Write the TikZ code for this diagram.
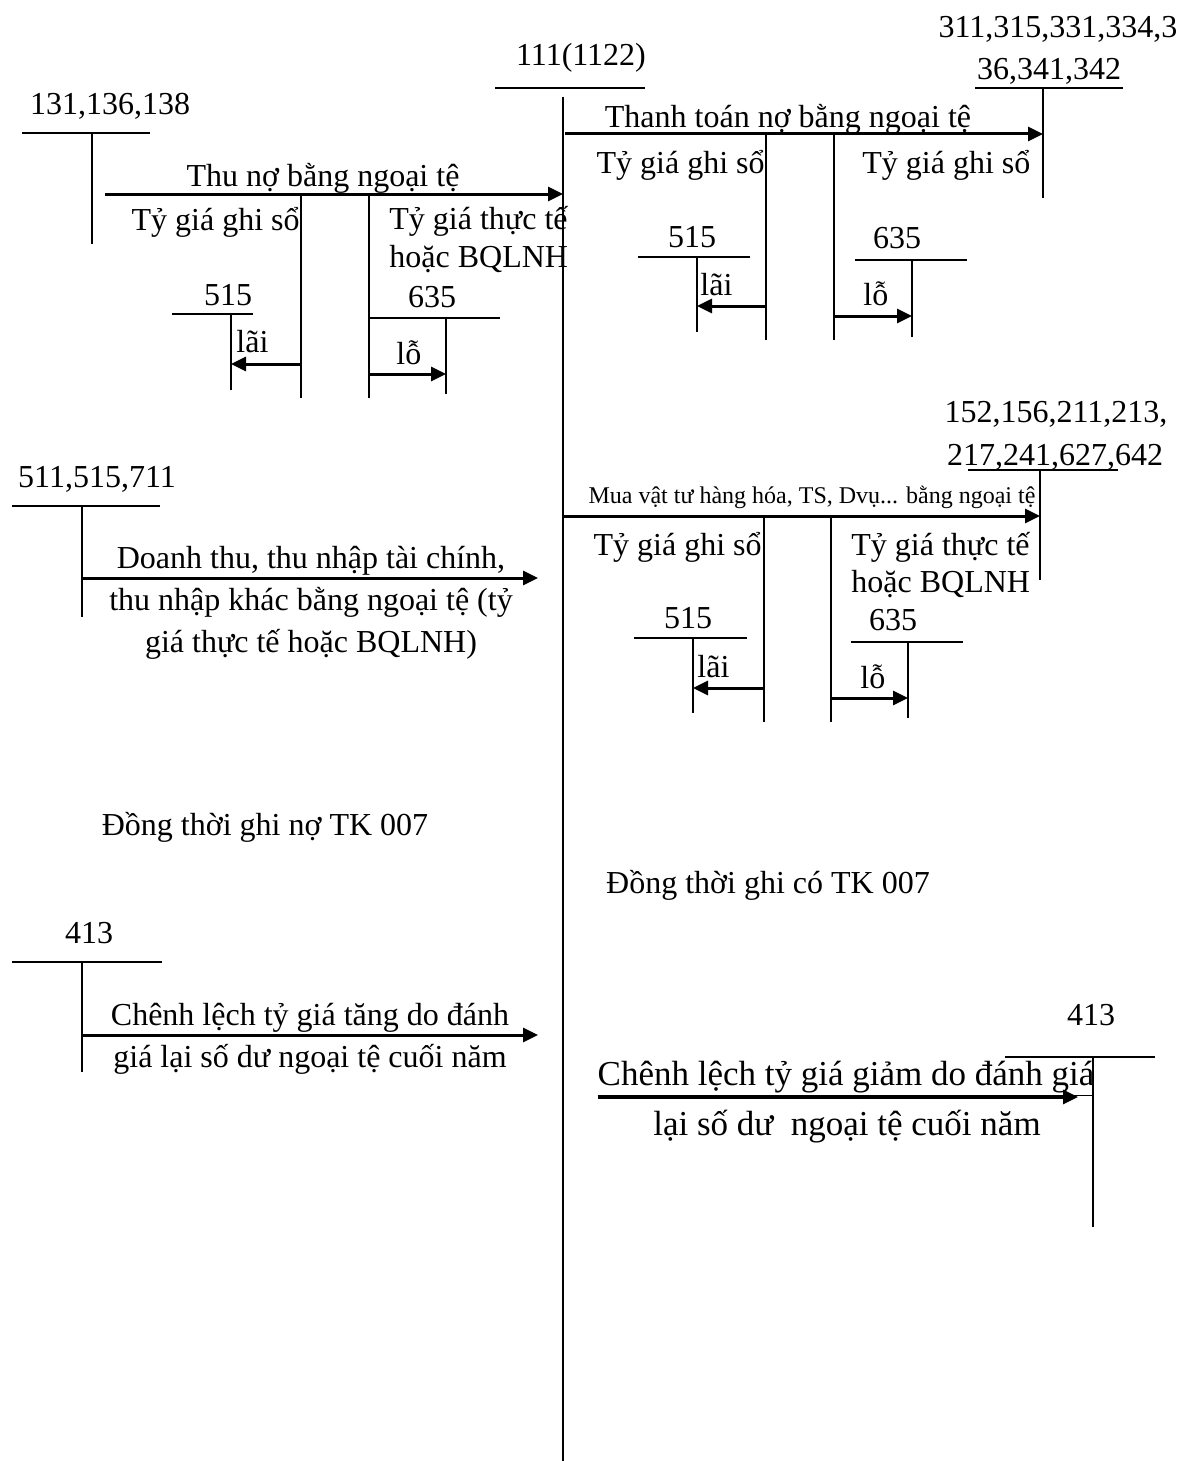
\documentclass[tikz,border=0pt]{standalone}
\usepackage{fontspec}
\setmainfont{Liberation Serif}
\usetikzlibrary{arrows.meta,positioning}

\begin{document}
\begin{tikzpicture}[x=0.5pt,y=-0.5pt,>={Triangle[length=7.5pt,width=7pt]},
  tk/.style={line width=0.9pt},
  but/.style={->,line width=1.5pt},
  chu/.style={font=\fontsize{16}{19}\selectfont,inner sep=0pt,anchor=base},
  chulon/.style={font=\fontsize{17.5}{21}\selectfont,inner sep=0pt,anchor=base},
  chunho/.style={font=\fontsize{12}{14}\selectfont,inner sep=0pt,anchor=base}]
\useasboundingbox (0,0) rectangle (1182,1461);

% tai khoan 111(1122)
\node[chu] (n111) at (581,66) {111(1122)};
\draw[tk] (495,88) -- (645,88);
\draw[tk] (563,97) -- (563,1461);

% 131,136,138
\node[chu] (n131) at (110,114) {131,136,138};
\draw[tk] (22,133) -- (150,133);
\draw[tk] (92,133) -- (92,244);
\coordinate (thuno-a) at (105,194);
\coordinate (thuno-b) at (563,194);
\draw[but] (thuno-a) -- (thuno-b);
\node[chu] (thuno) at (323,186) {Thu nợ bằng ngoại tệ};
\draw[tk] (301,194) -- (301,398);
\draw[tk] (369,194) -- (369,398);
\node[chu,anchor=base east] (tgs1) at (300,230) {Tỷ giá ghi sổ};
\node[chu,anchor=base west] (tgt1) at (389,229) {Tỷ giá thực tế};
\node[chu,anchor=base west] (bq1) at (389,267) {hoặc BQLNH};
\node[chu] (n515a) at (228,305) {515};
\draw[tk] (172,314) -- (253,314);
\draw[tk] (231,314) -- (231,390);
\node[chu] (n635a) at (432,307) {635};
\draw[tk] (370,318) -- (500,318);
\draw[tk] (446,318) -- (446,394);
\coordinate (lai1-a) at (301,364);
\coordinate (lai1-b) at (231,364);
\draw[but] (lai1-a) -- (lai1-b);
\node[chu,anchor=base west] (lai1) at (236,352) {lãi};
\coordinate (lo1-a) at (369,374);
\coordinate (lo1-b) at (446,374);
\draw[but] (lo1-a) -- (lo1-b);
\node[chu,anchor=base west] (lo1) at (396,364) {lỗ};

% 311,315,331,334,336,341,342
\node[chu] (n311) at (1058,38) {311,315,331,334,3};
\node[chu] (n336) at (1049,80) {36,341,342};
\draw[tk] (975,88) -- (1123,88);
\draw[tk] (1043,88) -- (1043,198);
\coordinate (ttno-a) at (565,134);
\coordinate (ttno-b) at (1043,134);
\draw[but] (ttno-a) -- (ttno-b);
\node[chu] (ttno) at (788,127) {Thanh toán nợ bằng ngoại tệ};
\draw[tk] (766,134) -- (766,340);
\draw[tk] (834,134) -- (834,340);
\node[chu,anchor=base east] (tgs2) at (765,173) {Tỷ giá ghi sổ};
\node[chu,anchor=base west] (tgs3) at (862,173) {Tỷ giá ghi sổ};
\node[chu] (n515b) at (692,247) {515};
\draw[tk] (638,257) -- (750,257);
\draw[tk] (697,257) -- (697,332);
\node[chu] (n635b) at (897,248) {635};
\draw[tk] (855,260) -- (967,260);
\draw[tk] (912,260) -- (912,337);
\coordinate (lai2-a) at (766,306);
\coordinate (lai2-b) at (697,306);
\draw[but] (lai2-a) -- (lai2-b);
\node[chu,anchor=base west] (lai2) at (700,295) {lãi};
\coordinate (lo2-a) at (834,316);
\coordinate (lo2-b) at (912,316);
\draw[but] (lo2-a) -- (lo2-b);
\node[chu,anchor=base west] (lo2) at (863,305) {lỗ};

% 511,515,711
\node[chu] (n511) at (97,487) {511,515,711};
\draw[tk] (12,506) -- (160,506);
\draw[tk] (82,506) -- (82,617);
\coordinate (dt-a) at (82,578);
\coordinate (dt-b) at (538,578);
\draw[but] (dt-a) -- (dt-b);
\node[chu] (dt1) at (311,568) {Doanh thu, thu nhập tài chính,};
\node[chu] (dt2) at (311,610) {thu nhập khác bằng ngoại tệ (tỷ};
\node[chu] (dt3) at (311,652) {giá thực tế hoặc BQLNH)};

% 152,156,211,213,217,241,627,642
\node[chu] (n152) at (1056,422) {152,156,211,213,};
\node[chu] (n217) at (1055,465) {217,241,627,642};
\draw[tk] (968,470) -- (1118,470);
\draw[tk] (1040,470) -- (1040,580);
\coordinate (mua-a) at (563,516);
\coordinate (mua-b) at (1040,516);
\draw[but] (mua-a) -- (mua-b);
\node[chunho] (mua) at (812,503) {Mua vật tư hàng hóa, TS, Dvụ... bằng ngoại tệ};
\draw[tk] (764,516) -- (764,722);
\draw[tk] (831,516) -- (831,722);
\node[chu,anchor=base east] (tgs4) at (762,555) {Tỷ giá ghi sổ};
\node[chu,anchor=base west] (tgt4) at (851,555) {Tỷ giá thực tế};
\node[chu,anchor=base west] (bq4) at (851,592) {hoặc BQLNH};
\node[chu] (n515c) at (688,628) {515};
\draw[tk] (634,638) -- (747,638);
\draw[tk] (693,638) -- (693,713);
\node[chu] (n635c) at (893,630) {635};
\draw[tk] (851,642) -- (963,642);
\draw[tk] (908,642) -- (908,718);
\coordinate (lai3-a) at (764,688);
\coordinate (lai3-b) at (693,688);
\draw[but] (lai3-a) -- (lai3-b);
\node[chu,anchor=base west] (lai3) at (697,677) {lãi};
\coordinate (lo3-a) at (831,698);
\coordinate (lo3-b) at (908,698);
\draw[but] (lo3-a) -- (lo3-b);
\node[chu,anchor=base west] (lo3) at (860,688) {lỗ};

% TK 007
\node[chu] (no007) at (265,835) {Đồng thời ghi nợ TK 007};
\node[chu] (co007) at (768,893) {Đồng thời ghi có TK 007};

% 413 ben trai
\node[chu] (n413a) at (89,943) {413};
\draw[tk] (12,962) -- (162,962);
\draw[tk] (82,962) -- (82,1072);
\coordinate (cltang-a) at (82,1035);
\coordinate (cltang-b) at (538,1035);
\draw[but] (cltang-a) -- (cltang-b);
\node[chu] (cltang1) at (310,1025) {Chênh lệch tỷ giá tăng do đánh};
\node[chu] (cltang2) at (310,1067) {giá lại số dư ngoại tệ cuối năm};

% 413 ben phai
\node[chu] (n413b) at (1091,1025) {413};
\draw[tk] (1005,1057) -- (1155,1057);
\draw[tk] (1093,1057) -- (1093,1227);
\coordinate (clgiam-a) at (598,1097);
\coordinate (clgiam-b) at (1078,1097);
\draw[but] (clgiam-a) -- (clgiam-b);
\node[chulon] (clgiam1) at (846,1085) {\underline{Chênh lệch tỷ giá giảm do đánh giá}};
\node[chulon] (clgiam2) at (847,1135) {lại số dư~ ngoại tệ cuối năm};
\end{tikzpicture}
\end{document}
